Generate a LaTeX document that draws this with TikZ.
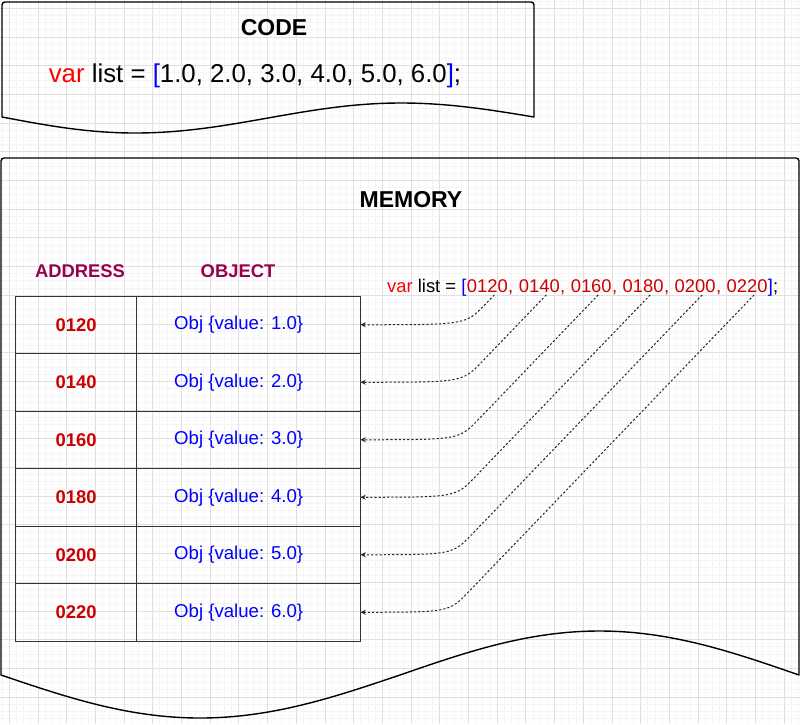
\documentclass[tikz,border=0pt]{standalone}
\usepackage{fontspec}
\setmainfont{Liberation Sans}
\usetikzlibrary{calc,arrows.meta,positioning}
\definecolor{varred}{RGB}{255,0,0}
\definecolor{addrred}{RGB}{204,0,0}
\definecolor{objblue}{RGB}{0,0,255}
\definecolor{headplum}{RGB}{153,0,77}
\definecolor{gridminor}{RGB}{245,245,245}
\definecolor{gridmajor}{RGB}{224,224,224}
\newcommand*\fsz[1]{\fontsize{#1}{#1}\selectfont}
\tikzset{
    docbox/.style={line width=1.4pt,line join=round},
    cell/.style={draw=black!80,line width=1pt,minimum height=57.5pt,inner sep=0pt,outer sep=0pt},
    addrcell/.style={cell,minimum width=121pt,font=\fsz{18.4}\bfseries,text=addrred},
    objcell/.style={cell,minimum width=224pt},
    objtxt/.style={font=\fsz{18.6},text=objblue,inner sep=0pt},
    title/.style={font=\fsz{23}\bfseries,anchor=base,inner sep=0pt},
    codetxt/.style={font=\fsz{25.8},anchor=base,inner sep=0pt},
    head/.style={font=\fsz{18.4}\bfseries,text=headplum,anchor=base,inner sep=0pt},
    lst/.style={font=\fsz{18.4},anchor=base west,inner xsep=0pt,inner ysep=2.5pt},
    num/.style={lst,text=addrred},
    ptr/.style={draw=black!85,line width=1pt,dash pattern=on 2.2pt off 2pt,-{Stealth[length=5pt,width=5pt]}},
}

\begin{document}
\begin{tikzpicture}[x=1pt,y=-1pt]
    \useasboundingbox (0,0) rectangle (800,724);
    % background grid
    \foreach \k in {0,...,111}{\draw[gridminor] ({1.83+7.175*\k},0) -- ++(0,724);}
    \foreach \k in {0,...,100}{\draw[gridminor] (0,{0.83+7.175*\k}) -- ++(800,0);}
    \foreach \k in {0,...,27}{\draw[gridmajor] ({9+28.7*\k},0) -- ++(0,724);}
    \foreach \k in {0,...,24}{\draw[gridmajor] (0,{8+28.7*\k}) -- ++(800,0);}

    % code document
    \draw[docbox] (2,117) [rounded corners=3pt] -- (2,2) -- (534,2) [sharp corners] -- (534,117)
        sin (401,103) cos (268,118) sin (135,133) cos (2,117) -- cycle;
    \node[title] (code) at (274,35) {CODE};
    \node[codetxt] (src) at (255,82) {\textcolor{varred}{var} list = \textcolor{objblue}{[}1.0, 2.0, 3.0, 4.0, 5.0, 6.0\textcolor{objblue}{]};};

    % memory document
    \draw[docbox] (1,675) [rounded corners=3pt] -- (1,158) -- (799,158) [sharp corners] -- (799,675)
        sin (599.5,631) cos (400,675) sin (200,718) cos (1,675) -- cycle;
    \node[title] (mem) at (411,207) {MEMORY};
    \node[head] (addrhead) at (80,277) {ADDRESS};
    \node[head] (objhead) at (238,277) {OBJECT};

    \foreach \a/\v [count=\i, remember=\i as \j (initially 0)] in {0120/1.0,0140/2.0,0160/3.0,0180/4.0,0200/5.0,0220/6.0}{
        \ifnum\i=1
            \node[addrcell,anchor=north west] (a1) at (15.7,296) {\a};
        \else
            \node[addrcell,below=0pt of a\j] (a\i) {\a};
        \fi
        \node[objcell,right=0pt of a\i] (o\i) {};
        \node[objtxt] (t\i) at ([xshift=-10pt]o\i.center) {Obj \{value: \v\}};
    }

    % the list of addresses
    \node[lst] (lhs) at (387,292) {\textcolor{varred}{var} list = \textcolor{objblue}{[}};
    \coordinate (e0) at (lhs.base east);
    \foreach \a [count=\i, remember=\i as \j (initially 0)] in {0120,0140,0160,0180,0200,0220}{
        \node[num] (n\i) at (e\j) {\a};
        \ifnum\i<6
            \node[num] (sep\i) at (n\i.base east) {,\kern.278em};
            \coordinate (e\i) at (sep\i.base east);
        \fi
    }
    \node[lst] (rhs) at (n6.base east) {\textcolor{objblue}{]};};

    \foreach \i in {1,...,6}{
        \coordinate (s\i) at ([xshift=7pt]n\i.south);
        \path let \p1=(s\i), \p2=(o\i.east) in coordinate (c\i) at ({\x1+(\y2-\y1)/1.04},\y2);
        \draw[ptr] (s\i) -- ($(c\i)!28pt!(s\i)$) .. controls (c\i) .. (o\i.east);
    }
\end{tikzpicture}
\end{document}
